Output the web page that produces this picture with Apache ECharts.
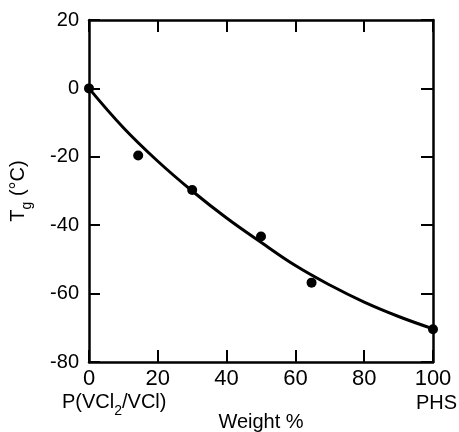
<!DOCTYPE html>
<html>
<head>
<meta charset="utf-8">
<script src="https://cdn.jsdelivr.net/npm/echarts@6/dist/echarts.min.js"></script>
<style>
  html, body { margin: 0; padding: 0; background: #fff; }
  #chart { width: 459px; height: 432px; }
</style>
</head>
<body>
<div id="chart"></div>
<script>
// Measured glass transition temperatures vs. composition
const weightPct = [0, 14.3, 30, 50, 64.7, 100];
const tgMeasured = [0, -19.6, -29.7, -43.3, -56.8, -70.4];

// Smooth trend line through the measurements
const fitWeight = [0, 10, 20, 30, 40, 50, 60, 70, 80, 90, 100];
const fitTg = [0, -11.5, -21.3, -30.0, -37.9, -45.0, -51.8, -57.5, -62.5, -66.7, -70.3];

const xTicks = [0, 20, 40, 60, 80, 100];
const yTicks = [20, 0, -20, -40, -60, -80];

const FONT = '"Liberation Sans", Arial, sans-serif';
const INK = '#000';

const chart = echarts.init(document.getElementById('chart'), null, { renderer: 'canvas' });

const axisLine = { show: true, onZero: false, lineStyle: { color: INK, width: 2.5 } };
const tick = (len) => ({ show: true, inside: true, length: len, lineStyle: { color: INK, width: 2 } });

chart.setOption({
  animation: false,
  backgroundColor: '#fff',
  grid: {
    left: 89, right: 26, top: 20, bottom: 70,
    containLabel: false, outerBoundsMode: 'none'
  },
  xAxis: [
    {
      type: 'value', min: xTicks[0], max: xTicks[xTicks.length - 1], interval: 20,
      position: 'bottom',
      axisLine, axisTick: tick(12), splitLine: { show: false },
      axisLabel: { color: INK, fontFamily: FONT, fontSize: 22, margin: 6 },
      name: 'Weight %', nameLocation: 'middle', nameGap: 50,
      nameMoveOverlap: false,
      nameTextStyle: { color: INK, fontFamily: FONT, fontSize: 20 }
    },
    {
      type: 'value', min: xTicks[0], max: xTicks[xTicks.length - 1], interval: 20,
      position: 'top',
      axisLine, axisTick: tick(12), splitLine: { show: false },
      axisLabel: { show: false }
    }
  ],
  yAxis: [
    {
      type: 'value', min: yTicks[yTicks.length - 1], max: yTicks[0], interval: 20,
      position: 'left',
      axisLine, axisTick: tick(11), splitLine: { show: false },
      axisLabel: { color: INK, fontFamily: FONT, fontSize: 20, margin: 10 },
      name: '{t|T}{s|g}{t| (°C)}', nameLocation: 'middle', nameGap: 55, nameRotate: 90,
      nameMoveOverlap: false,
      nameTextStyle: {
        color: INK, fontFamily: FONT,
        rich: {
          t: { fontSize: 20, fontFamily: FONT, color: INK, lineHeight: 26, verticalAlign: 'top' },
          s: { fontSize: 14, fontFamily: FONT, color: INK, lineHeight: 26, verticalAlign: 'bottom' }
        }
      }
    },
    {
      type: 'value', min: yTicks[yTicks.length - 1], max: yTicks[0], interval: 20,
      position: 'right',
      axisLine, axisTick: tick(12), splitLine: { show: false },
      axisLabel: { show: false }
    }
  ],
  graphic: [
    {
      type: 'text', left: 62, top: 392,
      style: {
        text: '{a|P(VCl}{s|2}{a|/VCl)}',
        rich: {
          a: { fontSize: 20, fontFamily: FONT, fill: INK, lineHeight: 26, verticalAlign: 'top' },
          s: { fontSize: 14, fontFamily: FONT, fill: INK, lineHeight: 26, verticalAlign: 'bottom' }
        }
      }
    },
    {
      type: 'text', right: 2, top: 393,
      style: { text: 'PHS', fontSize: 20, fontFamily: FONT, fill: INK }
    }
  ],
  series: [
    {
      type: 'line', xAxisIndex: 0, yAxisIndex: 0,
      data: fitWeight.map((w, i) => [w, fitTg[i]]),
      smooth: 0.4, showSymbol: false, symbol: 'none',
      lineStyle: { color: INK, width: 3 }, silent: true, z: 2
    },
    {
      type: 'scatter', xAxisIndex: 0, yAxisIndex: 0,
      data: weightPct.map((w, i) => [w, tgMeasured[i]]),
      symbol: 'circle', symbolSize: 10, clip: false,
      itemStyle: { color: INK, opacity: 1 }, z: 3
    }
  ]
});
</script>
</body>
</html>
